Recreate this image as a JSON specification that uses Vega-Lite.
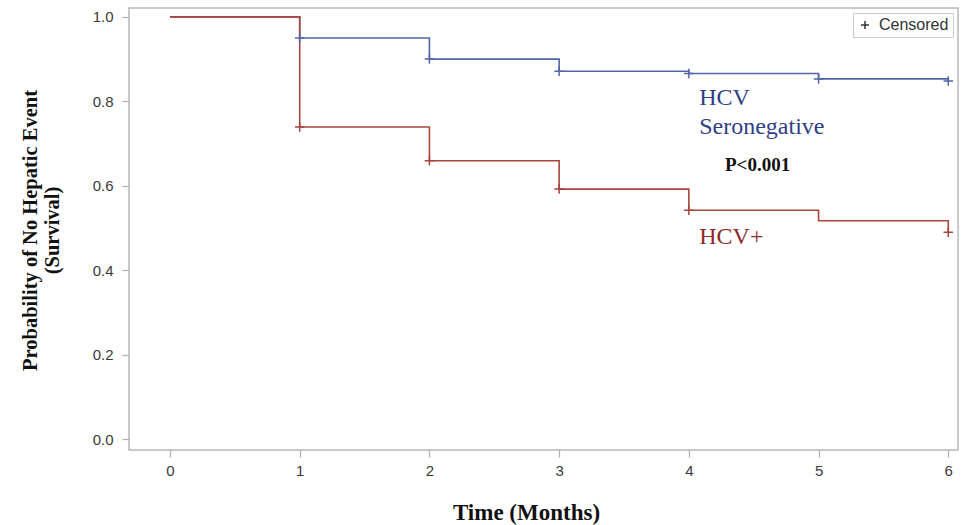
{
  "$schema": "https://vega.github.io/schema/vega-lite/v6.json",
  "width": 829,
  "height": 442,
  "autosize": {"type": "none"},
  "padding": {"left": 129, "top": 8, "right": 11, "bottom": 75},
  "background": "white",
  "config": {
    "view": {"stroke": "#b8b8b8", "strokeWidth": 1.5},
    "axis": {
      "grid": false,
      "domain": false,
      "tickColor": "#b0b0b0",
      "tickSize": 7,
      "tickWidth": 1.2,
      "labelFont": "Liberation Sans",
      "labelFontSize": 15,
      "labelColor": "#3a3a3a",
      "titleFont": "Liberation Serif",
      "titleFontWeight": "bold",
      "titleColor": "#111111"
    },
    "legend": {
      "orient": "top-right",
      "offset": 5,
      "strokeColor": "#cccccc",
      "padding": 4,
      "labelFont": "Liberation Sans",
      "labelFontSize": 16,
      "labelColor": "#333333",
      "labelOffset": 6,
      "symbolStrokeColor": "#333333",
      "symbolFillColor": "transparent",
      "symbolStrokeWidth": 1.5,
      "symbolSize": 64
    }
  },
  "datasets": {
    "curve": [
      {"group": "HCV Seronegative", "time": 0, "surv": 1.0},
      {"group": "HCV Seronegative", "time": 1, "surv": 0.95},
      {"group": "HCV Seronegative", "time": 2, "surv": 0.90},
      {"group": "HCV Seronegative", "time": 3, "surv": 0.871},
      {"group": "HCV Seronegative", "time": 4, "surv": 0.866},
      {"group": "HCV Seronegative", "time": 5, "surv": 0.853},
      {"group": "HCV Seronegative", "time": 6, "surv": 0.848},
      {"group": "HCV+", "time": 0, "surv": 1.0},
      {"group": "HCV+", "time": 1, "surv": 0.739},
      {"group": "HCV+", "time": 2, "surv": 0.659},
      {"group": "HCV+", "time": 3, "surv": 0.592},
      {"group": "HCV+", "time": 4, "surv": 0.542},
      {"group": "HCV+", "time": 5, "surv": 0.517},
      {"group": "HCV+", "time": 6, "surv": 0.49}
    ],
    "censored": [
      {"group": "HCV Seronegative", "time": 1, "surv": 0.95, "mark": "Censored"},
      {"group": "HCV Seronegative", "time": 2, "surv": 0.90, "mark": "Censored"},
      {"group": "HCV Seronegative", "time": 3, "surv": 0.871, "mark": "Censored"},
      {"group": "HCV Seronegative", "time": 4, "surv": 0.866, "mark": "Censored"},
      {"group": "HCV Seronegative", "time": 5, "surv": 0.853, "mark": "Censored"},
      {"group": "HCV Seronegative", "time": 6, "surv": 0.848, "mark": "Censored"},
      {"group": "HCV+", "time": 1, "surv": 0.739, "mark": "Censored"},
      {"group": "HCV+", "time": 2, "surv": 0.659, "mark": "Censored"},
      {"group": "HCV+", "time": 3, "surv": 0.592, "mark": "Censored"},
      {"group": "HCV+", "time": 4, "surv": 0.542, "mark": "Censored"},
      {"group": "HCV+", "time": 6, "surv": 0.49, "mark": "Censored"}
    ],
    "labels": [
      {"text": "HCV", "time": 4.08, "surv": 0.808, "kind": "blue"},
      {"text": "Seronegative", "time": 4.08, "surv": 0.739, "kind": "blue"},
      {"text": "HCV+", "time": 4.08, "surv": 0.479, "kind": "red"}
    ],
    "pval": [
      {"text": "P<0.001", "time": 4.53, "surv": 0.649}
    ]
  },
  "layer": [
    {
      "data": {"name": "curve"},
      "mark": {"type": "line", "interpolate": "step-after", "strokeWidth": 1.6},
      "encoding": {
        "x": {
          "field": "time", "type": "quantitative",
          "scale": {"domain": [-0.316, 6.075], "nice": false, "zero": false},
          "axis": {"values": [0, 1, 2, 3, 4, 5, 6], "format": "d", "labelPadding": 6, "title": "Time (Months)", "titleFontSize": 23, "titleX": 397, "titleY": 62, "titleBaseline": "middle", "titleAlign": "center"}
        },
        "y": {
          "field": "surv", "type": "quantitative",
          "scale": {"domain": [-0.026, 1.021], "nice": false, "zero": false},
          "axis": {"values": [0, 0.2, 0.4, 0.6, 0.8, 1.0], "format": ".1f", "labelPadding": 9, "title": ["Probability of No Hepatic Event", "(Survival)"], "titleFontSize": 20.5, "titleLineHeight": 22, "titleX": -99, "titleY": 222, "titleBaseline": "middle", "titleAngle": -90, "titleAlign": "center"}
        },
        "color": {
          "field": "group", "type": "nominal",
          "scale": {"domain": ["HCV Seronegative", "HCV+"], "range": ["#5266a8", "#a8463c"]},
          "legend": null
        },
        "order": {"field": "time", "type": "quantitative"}
      }
    },
    {
      "data": {"name": "censored"},
      "mark": {"type": "point", "filled": false, "strokeWidth": 1.5, "size": 90, "opacity": 1},
      "encoding": {
        "x": {"field": "time", "type": "quantitative"},
        "y": {"field": "surv", "type": "quantitative"},
        "color": {
          "field": "group", "type": "nominal",
          "scale": {"domain": ["HCV Seronegative", "HCV+"], "range": ["#5266a8", "#a8463c"]},
          "legend": null
        },
        "shape": {
          "field": "mark", "type": "nominal",
          "scale": {"domain": ["Censored"], "range": ["M-1,0L1,0M0,-1L0,1"]},
          "legend": {"title": null}
        }
      }
    },
    {
      "data": {"name": "labels"},
      "mark": {"type": "text", "font": "Liberation Serif", "fontSize": 24, "align": "left", "baseline": "middle"},
      "encoding": {
        "x": {"field": "time", "type": "quantitative"},
        "y": {"field": "surv", "type": "quantitative"},
        "text": {"field": "text"},
        "color": {
          "field": "kind", "type": "nominal",
          "scale": {"domain": ["blue", "red"], "range": ["#2f3f86", "#8e2b2b"]},
          "legend": null
        }
      }
    },
    {
      "data": {"name": "pval"},
      "mark": {"type": "text", "font": "Liberation Serif", "fontSize": 19, "fontWeight": "bold", "align": "center", "baseline": "middle", "color": "#111111"},
      "encoding": {
        "x": {"field": "time", "type": "quantitative"},
        "y": {"field": "surv", "type": "quantitative"},
        "text": {"field": "text"}
      }
    }
  ],
  "resolve": {"scale": {"color": "independent"}}
}
